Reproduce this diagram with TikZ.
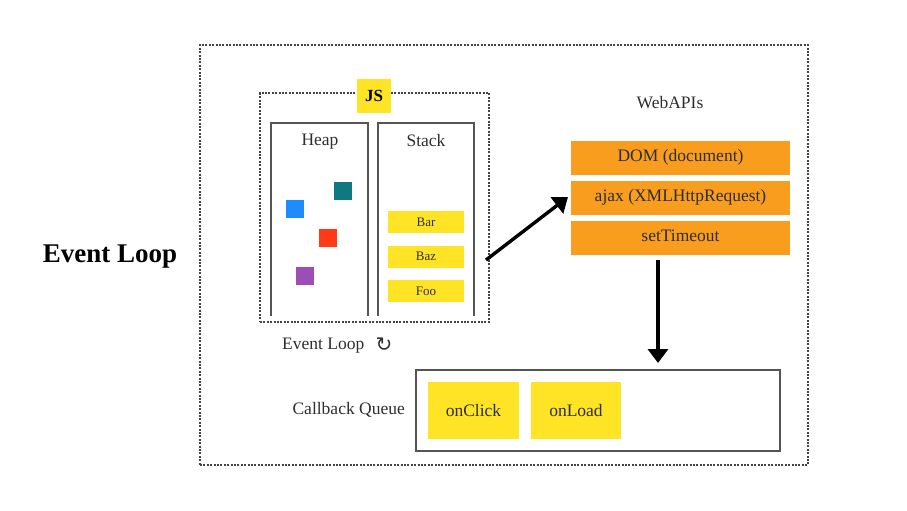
\documentclass[tikz,border=0pt]{standalone}
\usepackage{fontspec}
\setmainfont{Liberation Serif}
\newfontfamily\symfont{DejaVu Sans}
\usetikzlibrary{arrows.meta}
\definecolor{jsyellow}{HTML}{FFE426}
\definecolor{apiorange}{HTML}{F99D1F}
\definecolor{txtgray}{HTML}{2E2E2E}
\definecolor{linegray}{HTML}{555555}
\definecolor{dotgray}{HTML}{444444}
\definecolor{sqteal}{HTML}{0E7A80}
\definecolor{sqblue}{HTML}{1E8CFF}
\definecolor{sqred}{HTML}{FF3A14}
\definecolor{sqpurple}{HTML}{9C4DB6}
\tikzset{
  dotbox/.style={draw=dotgray, line width=2.2pt, dash pattern=on 2pt off 1.4pt},
  panel/.style={draw=linegray, line width=1.4pt},
  ybox/.style={fill=jsyellow, draw=none, inner sep=0pt, text=txtgray},
  obox/.style={fill=apiorange, draw=none, inner sep=0pt, minimum width=219pt, minimum height=34pt, text=txtgray, font=\fontsize{17.5}{20}\selectfont},
  sq/.style={draw=none, inner sep=0pt, minimum size=18pt},
  lbl/.style={text=txtgray, inner sep=0pt, font=\fontsize{17.5}{20}\selectfont},
  bigarrow/.style={line width=3.4pt, -{Triangle[length=14pt,width=20pt]}},
}
\begin{document}
\begin{tikzpicture}[x=1pt,y=-1pt]
\useasboundingbox (0,0) rectangle (907,511);
\fill[white] (0,0) rectangle (907,511);
% outer box
\node[dotbox, minimum width=608pt, minimum height=420pt, inner sep=0pt] (outer) at (504,255) {};
% big title
\node[lbl, font=\fontsize{27}{30}\bfseries\selectfont, text=black] (title) at (110,257) {Event Loop};
% JS box
\node[dotbox, minimum width=229pt, minimum height=229pt, inner sep=0pt] (js) at (374.5,207.5) {};
\node[ybox, minimum width=34pt, minimum height=34pt, font=\fontsize{17}{20}\bfseries\selectfont, text=black] (jslbl) at (374,96) {JS};
% heap and stack panels
\draw[panel] (271,316) -- (271,123) -- (368,123) -- (368,316);
\draw[panel] (378,316) -- (378,123) -- (474,123) -- (474,316);
\node[lbl, text depth=4pt] (heap) at (320,142) {Heap};
\node[lbl, text depth=4pt] (stack) at (426,142) {Stack};
\node[sq, fill=sqteal] (s1) at (343,191) {};
\node[sq, fill=sqblue] (s2) at (295,209) {};
\node[sq, fill=sqred] (s3) at (328,238) {};
\node[sq, fill=sqpurple] (s4) at (305,276) {};
\node[ybox, minimum width=76pt, minimum height=22pt, font=\fontsize{13}{15}\selectfont] (bar) at (426,222) {Bar};
\node[ybox, minimum width=76pt, minimum height=22pt, font=\fontsize{13}{15}\selectfont] (baz) at (426,256.5) {Baz};
\node[ybox, minimum width=76pt, minimum height=22pt, font=\fontsize{13}{15}\selectfont] (foo) at (426,291) {Foo};
% Web APIs
\node[lbl] (webapis) at (670,103) {WebAPIs};
\node[obox] (dom) at (680.5,157.5) {DOM (document)};
\node[obox] (ajax) at (680.5,197.5) {ajax (XMLHttpRequest)};
\node[obox, text depth=4pt] (timeout) at (680.5,238) {setTimeout};
% event loop label
\node[lbl, anchor=west] (evl) at (282,346) {Event Loop};
\node[text=txtgray, inner sep=0pt, font=\symfont\fontsize{20}{22}\selectfont] (evicon) at (384,345) {↻};
% callback queue
\node[panel, minimum width=364pt, minimum height=81pt, inner sep=0pt] (cbq) at (598,410.5) {};
\node[lbl, anchor=east] (cbqlbl) at (405,410) {Callback Queue};
\node[ybox, minimum width=91pt, minimum height=57pt, font=\fontsize{17.5}{20}\selectfont] (onclick) at (473.5,410.5) {onClick};
\node[ybox, minimum width=90pt, minimum height=57pt, font=\fontsize{17.5}{20}\selectfont] (onload) at (576,410.5) {onLoad};
% arrows
\coordinate (a1s) at (486,260);
\coordinate (a1e) at (568,197);
\draw[bigarrow] (a1s) -- (a1e);
\coordinate (a2s) at (658,260);
\coordinate (a2e) at (658,363);
\draw[bigarrow] (a2s) -- (a2e);
\end{tikzpicture}
\end{document}
